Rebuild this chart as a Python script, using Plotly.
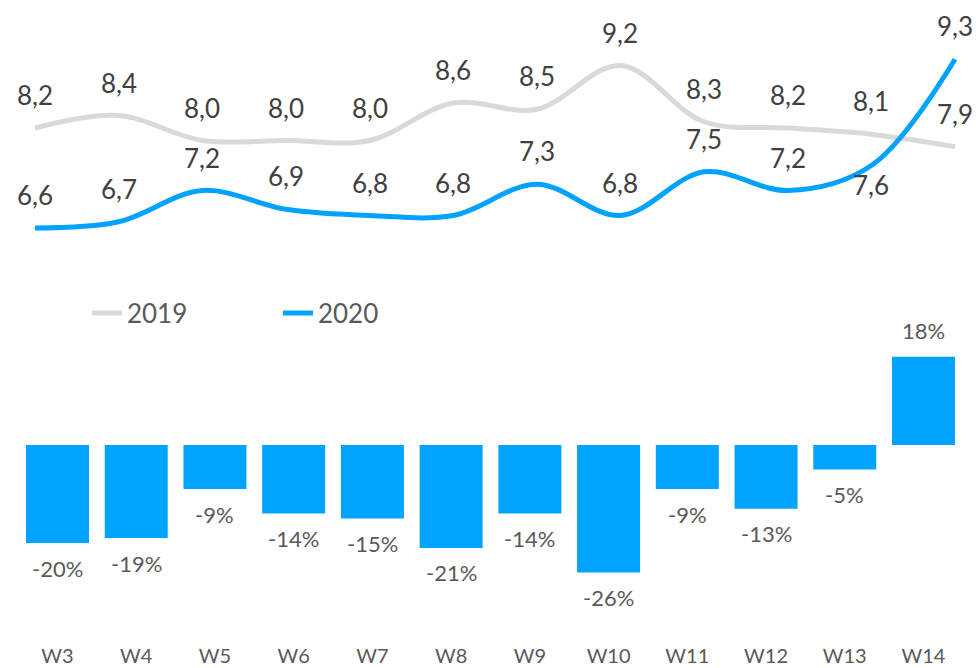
import plotly.graph_objects as go

weeks = ["W3", "W4", "W5", "W6", "W7", "W8", "W9", "W10", "W11", "W12", "W13", "W14"]
values_2019 = [8.2, 8.4, 8.0, 8.0, 8.0, 8.6, 8.5, 9.2, 8.3, 8.2, 8.1, 7.9]
values_2020 = [6.6, 6.7, 7.2, 6.9, 6.8, 6.8, 7.3, 6.8, 7.5, 7.2, 7.6, 9.3]
change_pct = [-20, -19, -9, -14, -15, -21, -14, -26, -9, -13, -5, 18]

FONT = "Lato, 'Open Sans', sans-serif"
GRAY = "#D9D9D9"
BLUE = "#00A2FF"
BAR_BLUE = "#00A3FF"
TXT_DARK = "#404040"
TXT = "#595959"

fig = go.Figure()

fig.add_trace(go.Scatter(
    x=weeks, y=values_2019, name="2019", mode="lines",
    line=dict(color=GRAY, width=5, shape="spline", smoothing=1.0),
    xaxis="x2", yaxis="y2", hoverinfo="skip"))
fig.add_trace(go.Scatter(
    x=weeks, y=values_2020, name="2020", mode="lines",
    line=dict(color=BLUE, width=5, shape="spline", smoothing=1.0),
    xaxis="x2", yaxis="y2", hoverinfo="skip"))

fig.add_trace(go.Bar(
    x=weeks, y=change_pct, marker=dict(color=BAR_BLUE, line=dict(width=0)),
    width=0.8, showlegend=False, xaxis="x", yaxis="y", hoverinfo="skip"))

def fmt(v):
    return f"{v:.1f}".replace(".", ",")

annotations = []
for i, w in enumerate(weeks):
    annotations.append(dict(x=w, y=values_2019[i], xref="x2", yref="y2",
                            text=fmt(values_2019[i]), showarrow=False,
                            yanchor="middle", yshift=33,
                            font=dict(family=FONT, size=26, color=TXT_DARK)))
    shift = 33 if w != "W13" else -19
    annotations.append(dict(x=w, y=values_2020[i], xref="x2", yref="y2",
                            text=fmt(values_2020[i]), showarrow=False,
                            yanchor="middle", yshift=shift,
                            font=dict(family=FONT, size=26, color=TXT_DARK)))
    v = change_pct[i]
    annotations.append(dict(x=w, y=v, xref="x", yref="y",
                            text=f"{v}%", showarrow=False,
                            yanchor="middle", yshift=(26 if v > 0 else -25),
                            font=dict(family=FONT, size=22, color=TXT)))

fig.update_layout(
    width=976, height=668,
    margin=dict(l=0, r=0, t=0, b=0),
    paper_bgcolor="white", plot_bgcolor="white",
    font=dict(family=FONT, color=TXT),
    showlegend=True,
    legend=dict(orientation="h", x=0.0891, y=0.5314, xanchor="left", yanchor="middle",
                font=dict(family=FONT, size=26, color=TXT),
                entrywidth=146, bgcolor="rgba(0,0,0,0)"),
    xaxis=dict(type="category", range=[-0.7304, 11.667], domain=[0, 1],
               showgrid=False, zeroline=False, showline=False, ticks="",
               tickfont=dict(family=FONT, size=20, color=TXT), anchor="y",
               automargin=False),
    yaxis=dict(range=[-40.2, 23.47], domain=[0.0389, 0.506], visible=False,
               showgrid=False, zeroline=False, anchor="x"),
    xaxis2=dict(type="category", range=[-0.4185, 11.251], domain=[0, 1],
                visible=False, anchor="y2", overlaying="x"),
    yaxis2=dict(range=[5.448, 10.248], domain=[0.5509, 1], visible=False,
                anchor="x2"),
    annotations=annotations,
    bargap=0.2,
)

fig.write_html(
    "out.html",
    config={"displayModeBar": False, "staticPlot": True},
    post_script="document.body.style.margin='0';document.body.style.overflow='hidden';",
)
